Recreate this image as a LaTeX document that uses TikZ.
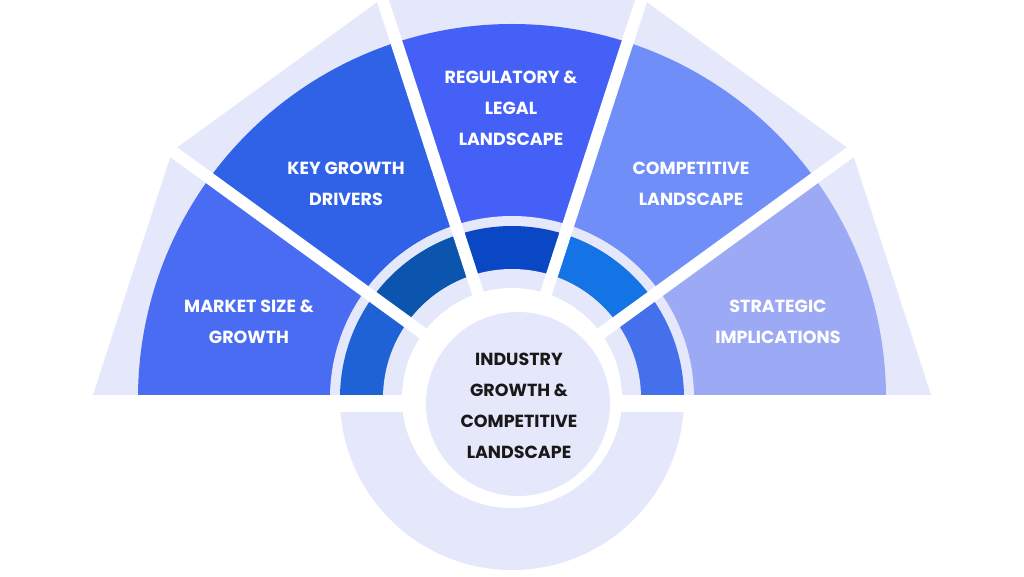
\documentclass[tikz,border=0pt]{standalone}
\usepackage{fontspec}
\setmainfont{Poppins}
\begin{document}
\begin{tikzpicture}[x=1pt,y=1pt,
  lab/.style={text=white,font=\fontsize{17.5}{31}\selectfont\bfseries,align=center},
  gap/.style={white,line width=12pt}]
\definecolor{lt}{HTML}{E5E7FB}
\definecolor{sA}{HTML}{4A6CF2}
\definecolor{sB}{HTML}{2F62E6}
\definecolor{sC}{HTML}{4460F6}
\definecolor{sD}{HTML}{6F8EF8}
\definecolor{sE}{HTML}{9CAAF6}
\definecolor{dA}{HTML}{1E62D6}
\definecolor{dB}{HTML}{0B55AE}
\definecolor{dC}{HTML}{0A47C4}
\definecolor{dD}{HTML}{1474E6}
\definecolor{dE}{HTML}{4570EC}
\useasboundingbox (0,0) rectangle (1024,576);
\fill[white] (0,0) rectangle (1024,576);
\begin{scope}[shift={(512,178)}]
 \fill[lt] (-172,0) arc[start angle=180,end angle=360,radius=172] -- (110,0) arc[start angle=0,end angle=-180,radius=110] -- cycle;
 \foreach \i/\s/\d in {0/sE/dE,1/sD/dD,2/sC/dC,3/sB/dB,4/sA/dA}{
   \pgfmathsetmacro\a{36*\i}\pgfmathsetmacro\b{36*\i+36}
   \fill[lt] (0,0) -- (\a:420) -- (\b:420) -- cycle;
   \fill[\s] (0,0) -- (\a:374) arc[start angle=\a,end angle=\b,radius=374] -- cycle;
   \fill[lt] (0,0) -- (\a:182) arc[start angle=\a,end angle=\b,radius=182] -- cycle;
   \fill[\d] (0,0) -- (\a:172) arc[start angle=\a,end angle=\b,radius=172] -- cycle;
   \fill[lt] (0,0) -- (\a:129) arc[start angle=\a,end angle=\b,radius=129] -- cycle;
 }
 \foreach \a in {36,72,108,144}{\draw[gap] (0,0) -- (\a:440);}
 \fill[white] (-440,-14) rectangle (440,3);
 \fill[white] (0,0) circle[radius=110];
 \node[circle,fill=lt,minimum size=184pt,inner sep=0pt] (c) at (6,-6) {};
 \node[align=center,font=\fontsize{17.5}{31}\selectfont\bfseries,text=black!90] (ct) at (7,-8)
   {INDUSTRY\\GROWTH \&\\COMPETITIVE\\LANDSCAPE};
\end{scope}
\node[lab] (m) at (249,254) {MARKET SIZE \&\\GROWTH};
\node[lab] (k) at (346,392) {KEY GROWTH\\DRIVERS};
\node[lab] (r) at (511,468) {REGULATORY \&\\LEGAL\\LANDSCAPE};
\node[lab] (cp) at (691,392) {COMPETITIVE\\LANDSCAPE};
\node[lab] (s) at (778,254) {STRATEGIC\\IMPLICATIONS};
\end{tikzpicture}
\end{document}
